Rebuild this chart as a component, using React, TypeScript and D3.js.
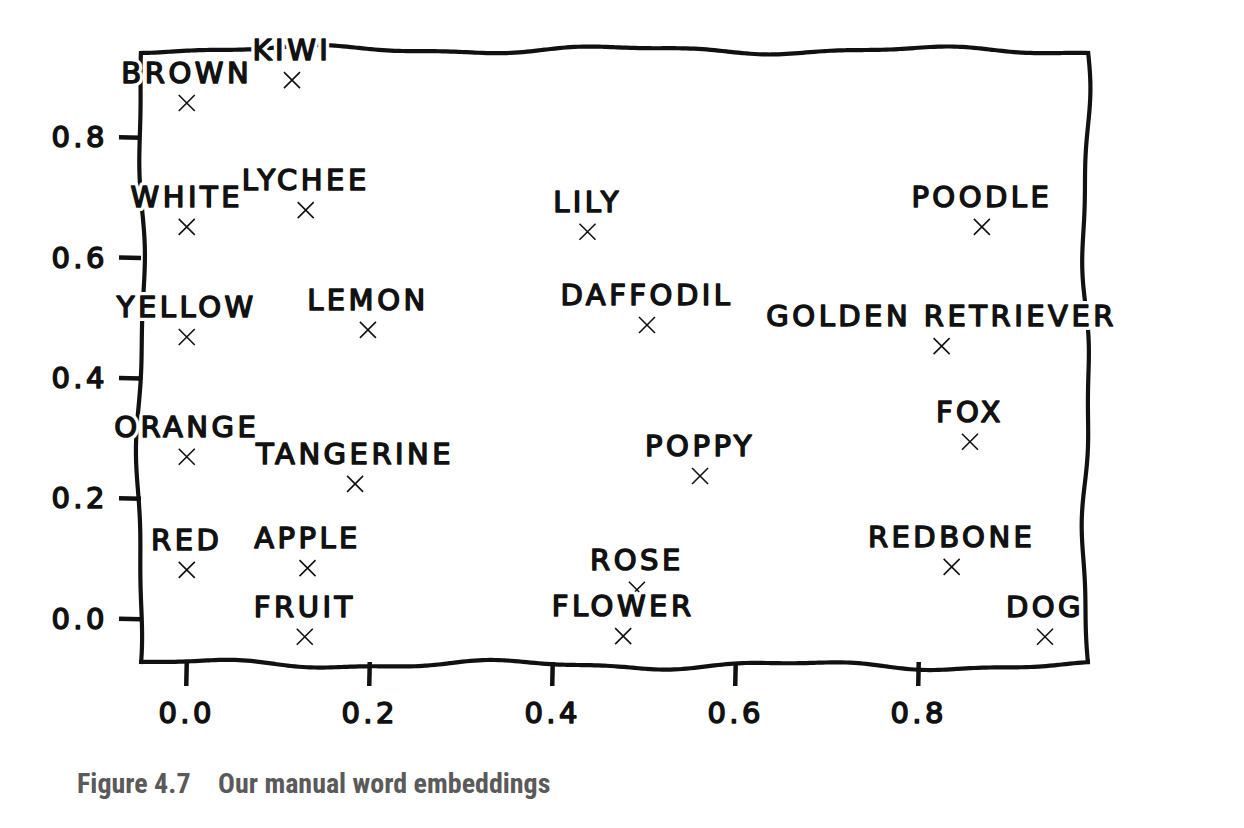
import React from "react";
import * as d3 from "d3";

const WORDS = ["BROWN", "KIWI", "WHITE", "LYCHEE", "LILY", "POODLE", "YELLOW", "LEMON", "DAFFODIL", "GOLDEN RETRIEVER", "FOX", "ORANGE", "TANGERINE", "POPPY", "RED", "APPLE", "REDBONE", "ROSE", "FRUIT", "FLOWER", "DOG"];
const X_VALUES = [0, 0.115, 0, 0.13, 0.438, 0.869, 0, 0.198, 0.503, 0.825, 0.856, 0, 0.184, 0.561, 0, 0.132, 0.836, 0.492, 0.129, 0.477, 0.938];
const Y_VALUES = [0.857, 0.895, 0.651, 0.679, 0.643, 0.651, 0.468, 0.48, 0.488, 0.453, 0.294, 0.269, 0.224, 0.237, 0.081, 0.084, 0.086, 0.048, -0.03, -0.029, -0.03];
const X_TICKS = [0, 0.2, 0.4, 0.6, 0.8];
const Y_TICKS = [0, 0.2, 0.4, 0.6, 0.8];
const X_DOMAIN = [-0.05, 0.985];
const Y_DOMAIN = [-0.072, 0.94];
const LABEL_OFFSET = 0.05;
const CAPTION_NUM = "Figure 4.7";
const CAPTION_TEXT = "Our manual word embeddings";

const W = 1244;
const H = 828;
const FONT = "'DejaVu Sans', 'Open Sans', sans-serif";

function wiggle(x0: number, y0: number, x1: number, y1: number, amp: number, wl: number, phase: number) {
  const len = Math.hypot(x1 - x0, y1 - y0);
  const n = Math.max(2, Math.ceil(len / 4));
  const nx = -(y1 - y0) / len;
  const ny = (x1 - x0) / len;
  const f = (d: number) =>
    amp * (Math.sin((2 * Math.PI * d) / wl + phase) + 0.35 * Math.sin((2 * Math.PI * d) / (wl * 0.41) + phase * 1.7));
  const f0 = f(0);
  const f1 = f(len);
  const pts: [number, number][] = d3.range(n + 1).map((i) => {
    const t = i / n;
    const off = f(t * len) - (f0 + (f1 - f0) * t);
    return [x0 + (x1 - x0) * t + nx * off, y0 + (y1 - y0) * t + ny * off];
  });
  return d3.line().curve(d3.curveBasis)(pts) as string;
}

function HaloText(props: any) {
  const { children, ...rest } = props;
  return (
    <g>
      <text {...rest} fill="white" stroke="white" strokeWidth={8} strokeLinejoin="round">
        {children}
      </text>
      <text {...rest} fill="#111" stroke="#111" strokeWidth={1.5} strokeLinejoin="round">
        {children}
      </text>
    </g>
  );
}

export default function App() {
  const x = d3.scaleLinear().domain(X_DOMAIN).range([141, 1088]);
  const y = d3.scaleLinear().domain(Y_DOMAIN).range([662, 53]);
  const [L, R] = x.range();
  const [B, T] = y.range();
  const tickLen = 22;
  const fmt = d3.format(".1f");
  const ms = 8;

  const textStyle: any = { fontFamily: FONT, fontSize: 29, letterSpacing: 3.5 };

  return (
    <svg width={W} height={H} style={{ position: "absolute", left: 0, top: 0, background: "white" }}>
      <rect width={W} height={H} fill="white" />
      {/* ticks */}
      <g stroke="#111" strokeWidth={4.5} fill="none">
        {Y_TICKS.map((t, i) => (
          <line key={"yt" + i} x1={L - tickLen} y1={y(t)} x2={L} y2={y(t) + 0.5} />
        ))}
        {X_TICKS.map((t, i) => (
          <line key={"xt" + i} x1={x(t)} y1={B} x2={x(t) - 0.5} y2={B + tickLen + 2} />
        ))}
      </g>
      {/* frame */}
      <g stroke="#111" strokeWidth={4.2} fill="none" strokeLinecap="butt">
        <path d={wiggle(L, B + 2, L, T - 2, 3, 330, 0.6)} />
        <path d={wiggle(R, B + 2, R, T - 2, 3.2, 300, 2.1)} />
        <path d={wiggle(L - 2, T, R + 2, T, 3.2, 310, 1.2)} />
        <path d={wiggle(L - 2, B, R + 2, B, 3.5, 300, 3.4)} />
      </g>
      {/* tick labels */}
      {Y_TICKS.map((t, i) => (
        <HaloText key={"yl" + i} x={108} y={y(t)} textAnchor="end" dominantBaseline="central" {...textStyle}>
          {fmt(t)}
        </HaloText>
      ))}
      {X_TICKS.map((t, i) => (
        <HaloText key={"xl" + i} x={x(t)} y={723} textAnchor="middle" {...textStyle}>
          {fmt(t)}
        </HaloText>
      ))}
      {/* markers + labels */}
      {WORDS.map((w, i) => {
        const px = x(X_VALUES[i]);
        const py = y(Y_VALUES[i]);
        return (
          <g key={"p" + i}>
            <path
              d={`M${px - ms},${py - ms}L${px + ms},${py + ms}M${px - ms},${py + ms}L${px + ms},${py - ms}`}
              stroke="#111"
              strokeWidth={1.6}
              fill="none"
            />
            <HaloText x={px} y={y(Y_VALUES[i] + LABEL_OFFSET)} textAnchor="middle" dominantBaseline="central" {...textStyle}>
              {w}
            </HaloText>
          </g>
        );
      })}
      {/* caption */}
      <g fontFamily="'Liberation Sans Narrow', 'Roboto Condensed', 'Arial Narrow', sans-serif" fontWeight="bold" fontSize={28} fill="#5a5a5a">
        <text x={77} y={793}>{CAPTION_NUM}</text>
        <text x={218} y={793}>{CAPTION_TEXT}</text>
      </g>
    </svg>
  );
}
